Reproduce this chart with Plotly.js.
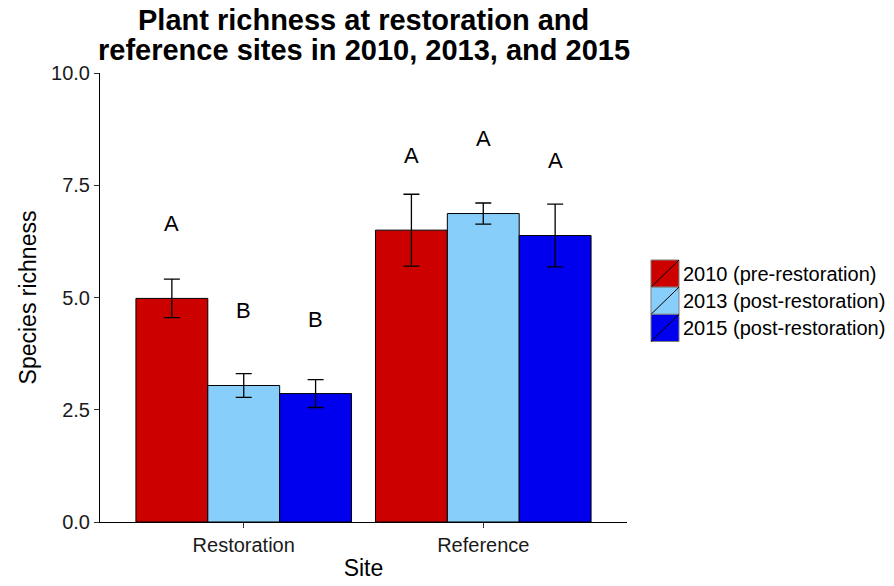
<!DOCTYPE html>
<html>
<head>
<meta charset="utf-8">
<script src="https://cdn.plot.ly/plotly-3.0.1.min.js"></script>
<style>html,body{margin:0;padding:0;background:#fff;}#chart{width:894px;height:586px;}</style>
</head>
<body>
<div id="chart"></div>
<script>
// ---- data ----
const sites = ["Restoration", "Reference"];
const seriesNames = ["2010 (pre-restoration)", "2013 (post-restoration)", "2015 (post-restoration)"];
const seriesColors = ["#CD0000", "#87CEFA", "#0000EE"];
const richness2010 = [4.98, 6.50];
const richness2013 = [3.04, 6.87];
const richness2015 = [2.86, 6.38];
const se2010 = [0.43, 0.80];
const se2013 = [0.265, 0.235];
const se2015 = [0.31, 0.70];
const letters2010 = ["A", "A"];
const letters2013 = ["B", "A"];
const letters2015 = ["B", "A"];
const letterY2010 = [6.65, 8.17];
const letterY2013 = [4.70, 8.55];
const letterY2015 = [4.52, 8.05];
const yTickVals = [0, 2.5, 5, 7.5, 10];
const yTickText = ["0.0", "2.5", "5.0", "7.5", "10.0"];
const titleLines = ["Plant richness at restoration and", "reference sites in 2010, 2013, and 2015"];

const values = [richness2010, richness2013, richness2015];
const errors = [se2010, se2013, se2015];
const letters = [letters2010, letters2013, letters2015];
const letterYs = [letterY2010, letterY2013, letterY2015];

const FONT = "Liberation Sans, Arial, sans-serif";

const traces = values.map((v, i) => ({
  type: "bar",
  name: seriesNames[i],
  x: sites,
  y: v,
  marker: {color: seriesColors[i], line: {color: "#000", width: 1}},
  error_y: {type: "data", array: errors[i], visible: true, color: "#000", thickness: 1.3, width: 8},
  showlegend: false,
  hoverinfo: "x+y"
}));

// dodge offsets for 3 bars in 0.9 group width
const groupWidth = 0.9;
const barW = groupWidth / 3;
const annotations = [];
letters.forEach((arr, i) => {
  arr.forEach((lab, j) => {
    annotations.push({
      x: j + (i - 1) * barW, y: letterYs[i][j], xref: "x", yref: "y",
      text: lab, showarrow: false, yanchor: "middle", xanchor: "center",
      font: {family: FONT, size: 22, color: "#000"}
    });
  });
});

// title (two lines, tight ggplot-like spacing)
const titleY = [1.118, 1.051];
titleLines.forEach((t, k) => {
  annotations.push({x: 0.5, y: titleY[k], xref: "paper", yref: "paper", text: "<b>" + t + "</b>",
    showarrow: false, xanchor: "center", yanchor: "middle",
    font: {family: FONT, size: 29, color: "#000"}});
});

// custom legend (ggplot-style keys with diagonal)
const shapes = [];
const keyX0 = 1.0455, keyX1 = 1.0987;
const keyTop = 0.5835, keyH = 0.0605;
seriesNames.forEach((nm, i) => {
  const y1 = keyTop - i * keyH, y0 = y1 - keyH;
  shapes.push({type: "rect", xref: "paper", yref: "paper", x0: keyX0, x1: keyX1, y0: y0, y1: y1,
    fillcolor: seriesColors[i], line: {color: "#7f7f7f", width: 1}});
  shapes.push({type: "line", xref: "paper", yref: "paper", x0: keyX0, x1: keyX1, y0: y0, y1: y1,
    line: {color: "#000", width: 1}});
  annotations.push({x: keyX1 + 0.004, y: (y0 + y1) / 2, xref: "paper", yref: "paper",
    text: nm, showarrow: false, xanchor: "left", yanchor: "middle",
    font: {family: FONT, size: 20, color: "#000"}});
});

const layout = {
  width: 894, height: 586,
  margin: {l: 100, r: 267, t: 73, b: 64},
  paper_bgcolor: "#fff", plot_bgcolor: "#fff",
  font: {family: FONT, color: "#000"},
  barmode: "group", bargap: 0.1, bargroupgap: 0,
  xaxis: {type: "category", range: [-0.6, 1.6], showline: true, linecolor: "#000", linewidth: 1,
    ticks: "outside", ticklen: 5, tickcolor: "#333", showgrid: false, zeroline: false,
    tickfont: {family: FONT, size: 20, color: "#1a1a1a"},
    title: {text: "Site", font: {family: FONT, size: 23, color: "#000"}, standoff: 4}},
  yaxis: {range: [0, 10], tickvals: yTickVals, ticktext: yTickText, showline: true, linecolor: "#000",
    linewidth: 1, ticks: "outside", ticklen: 5, tickcolor: "#333", showgrid: false, zeroline: false,
    tickfont: {family: FONT, size: 20, color: "#1a1a1a"},
    title: {text: "Species richness", font: {family: FONT, size: 23, color: "#000"}, standoff: 8}},
  annotations: annotations,
  shapes: shapes,
  showlegend: false
};

Plotly.newPlot("chart", traces, layout, {displayModeBar: false, staticPlot: true});
</script>
</body>
</html>
